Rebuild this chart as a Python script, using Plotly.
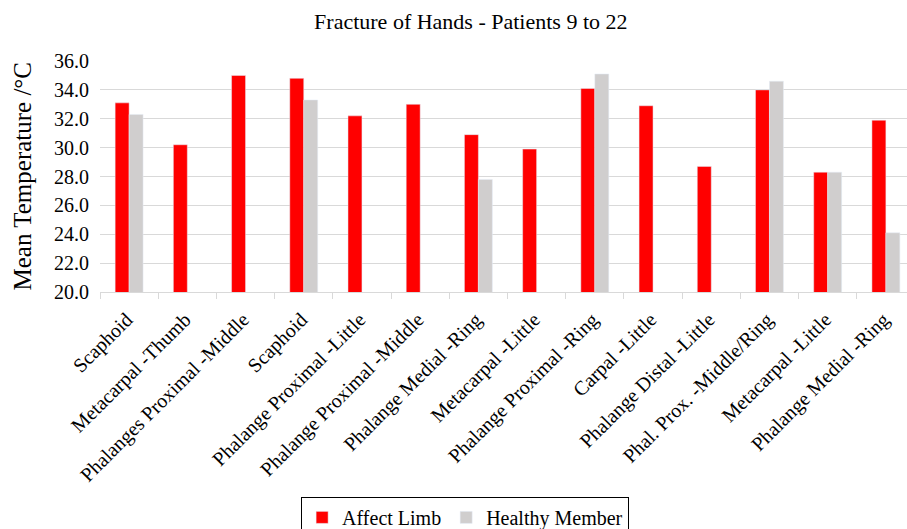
import plotly.graph_objects as go

# categories, in chart order (patients 9 to 22)
categories = ['Scaphoid', 'Metacarpal -Thumb', 'Phalanges Proximal -Middle', 'Scaphoid',
              'Phalange Proximal -Little', 'Phalange Proximal -Middle', 'Phalange Medial -Ring',
              'Metacarpal -Little', 'Phalange Proximal -Ring', 'Carpal -Little',
              'Phalange Distal -Little', 'Phal. Prox. -Middle/Ring', 'Metacarpal -Little',
              'Phalange Medial -Ring']
affect_limb = [33.1, 30.2, 35.0, 34.8, 32.2, 33.0, 30.9, 29.9, 34.1, 32.9, 28.7, 34.0, 28.3, 31.9]
healthy_member = [32.3, None, None, 33.3, None, None, 27.8, None, 35.1, None, None, 34.6, 28.3, 24.1]
y_ticks = [20, 22, 24, 26, 28, 30, 32, 34, 36]

xpos = list(range(len(categories)))
font = 'Liberation Serif, Times New Roman, serif'

fig = go.Figure()
fig.add_trace(go.Bar(x=xpos, y=affect_limb, name='Affect Limb',
                     marker=dict(color='#ff0000')))
fig.add_trace(go.Bar(x=xpos, y=healthy_member, name='Healthy Member',
                     marker=dict(color='#d0cece')))

# y axis title placed by hand, like the Excel original
fig.add_annotation(text='Mean Temperature /°C', textangle=-90, showarrow=False,
                   xref='paper', yref='paper', x=-0.0957, y=0.5,
                   xanchor='center', yanchor='middle',
                   font=dict(size=25, family=font, color='black'))

# the original chart runs a little past the right edge of the window
fig.update_layout(
    width=923, height=529,
    barmode='group', bargap=0.52, bargroupgap=0,
    plot_bgcolor='white', paper_bgcolor='white',
    margin=dict(l=100, r=8, t=61, b=237, autoexpand=False),
    font=dict(family=font, color='black'),
    title=dict(text='Fracture of Hands - Patients 9 to 22', x=0.455, xanchor='center',
               xref='paper', y=0.975, yanchor='top',
               font=dict(size=22, family=font, color='black')),
    legend=dict(orientation='h', x=0.448, xanchor='center', y=-0.887, yanchor='top',
                bordercolor='black', borderwidth=1, font=dict(size=20, family=font),
                traceorder='normal'),
    xaxis=dict(tickmode='array', tickvals=[p - 0.04 for p in xpos], ticktext=categories,
               tickangle=-45, ticklabelstandoff=7,
               range=[-0.5, len(categories) - 0.5], showgrid=False, automargin=False,
               showline=True, linecolor='#d9d9d9', linewidth=1,
               ticks='', tickfont=dict(size=20, family=font),
               minor=dict(tick0=-0.5, dtick=1, ticks='outside', ticklen=6,
                          tickcolor='#d9d9d9', showgrid=False)),
    yaxis=dict(range=[20, 36], tickvals=y_ticks, ticktext=['%.1f' % v for v in y_ticks],
               showgrid=True, gridcolor='#d9d9d9', gridwidth=1, zeroline=False,
               ticklabelstandoff=10,
               automargin=False, tickfont=dict(size=20, family=font)),
)

# drop the browser's default body margin so the figure fills the window
fig.write_html('out.html', config={'displayModeBar': False},
               post_script="document.body.style.margin='0';document.body.style.overflow='hidden';")
